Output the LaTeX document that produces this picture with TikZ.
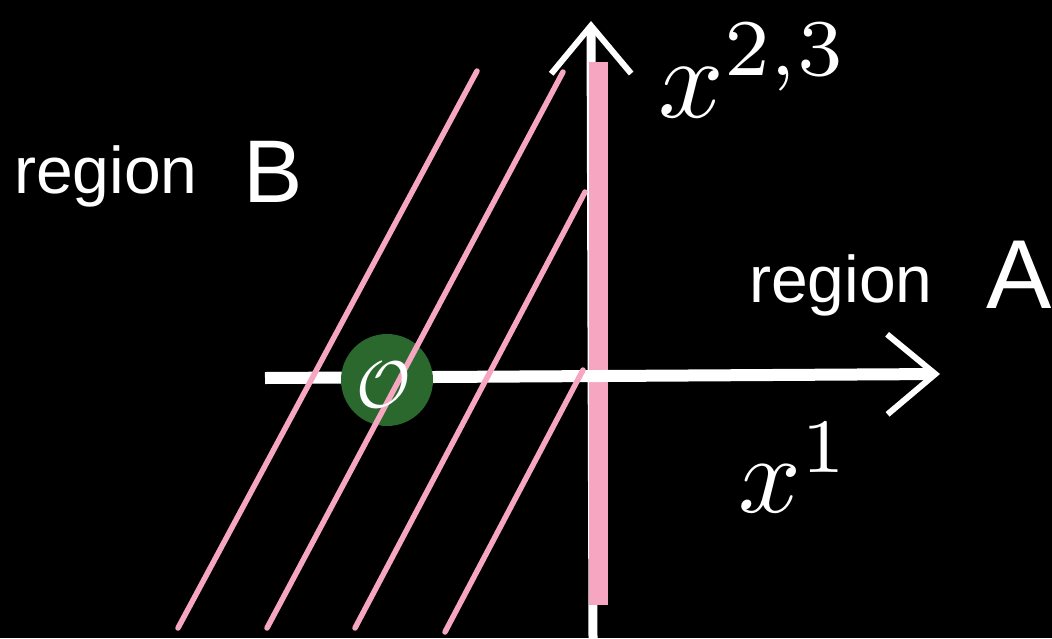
\documentclass[tikz,border=0pt]{standalone}
\usepackage{fontspec}
\setsansfont{Liberation Sans}
\usetikzlibrary{arrows.meta}

\definecolor{chalkpink}{RGB}{246,166,192}
\definecolor{dotgreen}{RGB}{42,104,46}

\begin{document}
\begin{tikzpicture}[
    x=1pt, y=-1pt,
    axisline/.style={white, line width=9pt, -{Straight Barb[length=48pt, width=80pt, line width=6pt]}},
    wall/.style={chalkpink, line width=19pt},
    ray/.style={chalkpink, line width=5.5pt, line cap=round},
    word/.style={white, inner sep=0pt, anchor=base west, font=\sffamily\fontsize{66}{66}\selectfont},
    letter/.style={word, font=\sffamily\fontsize{#1}{#1}\selectfont},
    coordtext/.style={white, inner sep=0pt, anchor=base west, scale=#1, transform shape}
]
\fill[black] (0,0) rectangle (1052,638);
\useasboundingbox (0,0) rectangle (1052,638);

% axes
\coordinate (vbottom) at (593,638);
\coordinate (vtop) at (591,21);
\coordinate (wallbottom) at (598,605);
\coordinate (walltop) at (598,62);
\coordinate (hleft) at (265,378);
\coordinate (hright) at (940,374);

\draw[axisline] (vbottom) -- (vtop);
\draw[wall] (wallbottom) -- (walltop);
\draw[axisline, line width=12pt] (hleft) -- (hright);

% origin
\fill[dotgreen] (387,380) circle (46);

% lines of constant time
\coordinate (r1a) at (178,628);
\coordinate (r1b) at (477,71);
\coordinate (r2a) at (267,628);
\coordinate (r2b) at (563,72);
\coordinate (r3a) at (355,628);
\coordinate (r3b) at (585,192);
\coordinate (r4a) at (445,632);
\coordinate (r4b) at (583,370);
\draw[ray] (r1a) -- (r1b);
\draw[ray] (r2a) -- (r2b);
\draw[ray] (r3a) -- (r3b);
\draw[ray] (r4a) -- (r4b);

\node[white, inner sep=0pt, scale=6.6, transform shape] (origin) at (384,385) {$\mathcal{O}$};

% labels
\node[word] (regionB) at (14,193) {region};
\node[letter=89] (letterB) at (243,202) {B};
\node[word] (regionA) at (749,302) {region};
\node[letter=98] (letterA) at (986,308) {A};
\node[coordtext=11.5] (xtwo) at (656,117) {$x^{2,3}$};
\node[coordtext=11] (xone) at (736,512) {$x^1$};
\end{tikzpicture}
\end{document}
